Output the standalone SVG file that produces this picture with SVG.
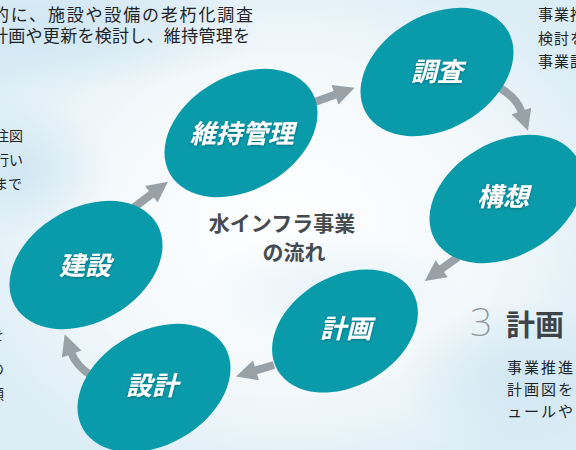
<svg xmlns="http://www.w3.org/2000/svg" width="576" height="450" viewBox="0 0 576 450">
<defs>
<radialGradient id="bg1" cx="0.5" cy="0.5" r="0.6">
<stop offset="0" stop-color="#ffffff"/>
<stop offset="0.6" stop-color="#f3f8fb"/>
<stop offset="1" stop-color="#dcedf6"/>
</radialGradient>
<radialGradient id="bl" cx="0.5" cy="0.5" r="0.5">
<stop offset="0" stop-color="#cfe6f2" stop-opacity="0.9"/>
<stop offset="1" stop-color="#cfe6f2" stop-opacity="0"/>
</radialGradient>
<filter id="ts" x="-20%" y="-30%" width="140%" height="160%">
<feDropShadow dx="0" dy="1" stdDeviation="1.5" flood-color="#05505a" flood-opacity="0.6"/>
</filter>
<marker id="ah" viewBox="0 0 10 10" refX="1" refY="5" markerWidth="2.7" markerHeight="2.6" orient="auto">
<path d="M0,0 L10,5 L0,10 z" fill="#98a1a7"/>
</marker>
<style>
.node{fill:#0a9bab}
.lbl{font-family:"Noto Sans CJK JP","Noto Sans",sans-serif;font-weight:700;font-style:italic;font-size:26px;fill:#ffffff;text-anchor:middle}
.conn{fill:none;stroke:#98a1a7;stroke-width:8;marker-end:url(#ah)}
.body{font-family:"Noto Sans CJK JP",sans-serif;font-size:14px;fill:#1e2326}
.side{font-family:"Noto Sans CJK JP",sans-serif;font-size:15px;fill:#1e2326;letter-spacing:1px}
.top{font-family:"Noto Sans CJK JP",sans-serif;font-size:17px;fill:#1e2326}
.title{font-family:"Noto Sans CJK JP",sans-serif;font-weight:700;font-size:21px;fill:#454b50;text-anchor:middle}
</style>
</defs>
<rect width="576" height="450" fill="url(#bg1)"/>
<ellipse cx="60" cy="30" rx="200" ry="60" fill="url(#bl)"/>
<ellipse cx="20" cy="170" rx="90" ry="70" fill="url(#bl)"/>
<ellipse cx="520" cy="380" rx="120" ry="80" fill="url(#bl)"/>
<ellipse cx="330" cy="290" rx="130" ry="60" fill="url(#bl)" opacity="0.5"/>

<g id="bg-text">
<text class="top" x="-8" y="21" textLength="261" lengthAdjust="spacing">的に、施設や設備の老朽化調査</text>
<text class="top" x="-9" y="42" textLength="259" lengthAdjust="spacing">計画や更新を検討し、維持管理を</text>
<text class="body" x="-5" y="141">注図</text>
<text class="body" x="-5" y="165">行い</text>
<text class="body" x="-6" y="189">まで</text>
<text class="body" x="-10" y="340">を</text>
<text class="body" x="-10" y="374">の</text>
<text class="body" x="-10" y="399">頭</text>
<text class="side" x="538" y="20">事業推</text>
<text class="side" x="538" y="44">検討を</text>
<text class="side" x="538" y="67">事業計</text>
</g>

<g id="connectors">
<path class="conn" d="M312,103 L337,94"/>
<path class="conn" d="M500,88 Q517,98 522,113"/>
<path class="conn" d="M458,257 L440,270"/>
<path class="conn" d="M274,365 L254,371"/>
<path class="conn" d="M92,376 Q76,366 71,352"/>
<path class="conn" d="M128,212 L153,193"/>
</g>

<g id="node-iji">
<ellipse class="node" cx="241" cy="133" rx="82" ry="57" transform="rotate(-30 241 133)"/>
<text class="lbl" x="242" y="143" filter="url(#ts)">維持管理</text>
</g>
<g id="node-chousa">
<ellipse class="node" cx="437" cy="72" rx="82" ry="57" transform="rotate(-30 437 72)"/>
<text class="lbl" x="437" y="81" filter="url(#ts)">調査</text>
</g>
<g id="node-kousou">
<ellipse class="node" cx="506" cy="199" rx="82" ry="57" transform="rotate(-30 506 199)"/>
<text class="lbl" x="503" y="206" filter="url(#ts)">構想</text>
</g>
<g id="node-keikaku">
<ellipse class="node" cx="345" cy="331" rx="78" ry="55" transform="rotate(-30 345 331)"/>
<text class="lbl" x="346" y="338" filter="url(#ts)">計画</text>
</g>
<g id="node-sekkei">
<ellipse class="node" cx="154" cy="388" rx="82" ry="57" transform="rotate(-30 154 388)"/>
<text class="lbl" x="152" y="395" filter="url(#ts)">設計</text>
</g>
<g id="node-kensetsu">
<ellipse class="node" cx="86" cy="265" rx="82" ry="57" transform="rotate(-30 86 265)"/>
<text class="lbl" x="85" y="275" filter="url(#ts)">建設</text>
</g>

<g id="title">
<text class="title" x="282" y="231">水インフラ事業</text>
<text class="title" x="294" y="260">の流れ</text>
</g>

<g id="section3">
<text x="470" y="336" font-family="'Noto Sans','Liberation Sans',sans-serif" font-weight="200" font-size="39" fill="#8d969c">3</text>
<text x="506" y="336" font-family="'Noto Sans CJK JP',sans-serif" font-weight="700" font-size="29" fill="#3d4449">計画</text>
<text class="side" x="507" y="373" style="letter-spacing:2px">事業推進</text>
<text class="side" x="507" y="395" style="letter-spacing:2px">計画図を</text>
<text class="side" x="507" y="417" style="letter-spacing:2px">ュールや</text>
</g>
</svg>
